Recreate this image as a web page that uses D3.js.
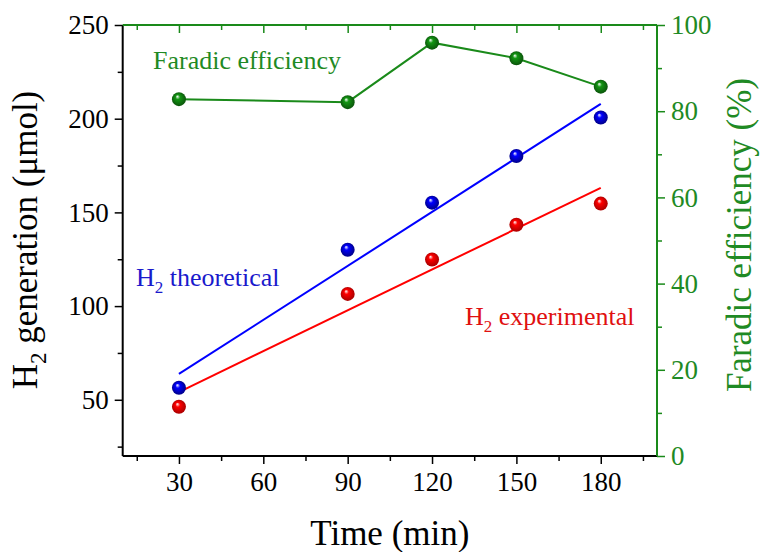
<!DOCTYPE html>
<html>
<head>
<meta charset="utf-8">
<script src="https://cdn.jsdelivr.net/npm/d3@7"></script>
<style>
  html, body { margin: 0; padding: 0; background: #fff; }
  svg { display: block; }
  svg text { font-family: "Liberation Serif", "Times New Roman", serif !important; }
</style>
</head>
<body>
<svg id="chart" width="761" height="552"></svg>
<script>
// Sampling times (min)
const times = [30, 90, 120, 150, 180];
// H2 amounts (µmol)
const h2Theoretical = [56.4, 130.1, 155.2, 180.1, 200.6];
const h2Experimental = [46.3, 106.5, 124.9, 143.4, 154.7];
// Faradaic efficiency (%)
const faradicEff = [82.8, 82.1, 95.9, 92.3, 85.7];

const xTicks = [30, 60, 90, 120, 150, 180];
const xMinorTicks = [15, 45, 75, 105, 135, 165, 195];
const yLeftTicks = [50, 100, 150, 200, 250];
const yLeftMinor = [25, 75, 125, 175, 225];
const yRightTicks = [0, 20, 40, 60, 80, 100];
const yRightMinor = [10, 30, 50, 70, 90];

const BLUE = "#0000ff", RED = "#ff0000", GREEN = "#1a8a1a";
const TEXT_BLUE = "#1a1acc", TEXT_RED = "#e01010", TEXT_GREEN = "#1f8a24";
const SERIF = "'Liberation Serif', 'Times New Roman', serif";

const svg = d3.select("#chart");
const plotL = 122.7, plotR = 657, plotT = 25, plotB = 456;

const x = d3.scaleLinear().domain([10, 200]).range([plotL, plotR]);
const yL = d3.scaleLinear().domain([20, 250]).range([plotB, plotT]);
const yR = d3.scaleLinear().domain([0, 100]).range([plotB, plotT]);

// Sphere-like marker gradients
const defs = svg.append("defs");
function sphere(id, base, dark) {
  const g = defs.append("radialGradient").attr("id", id)
    .attr("cx", "50%").attr("cy", "50%").attr("r", "55%")
    .attr("fx", "38%").attr("fy", "30%");
  g.append("stop").attr("offset", "0%").attr("stop-color", "#ffffff");
  g.append("stop").attr("offset", "30%").attr("stop-color", base);
  g.append("stop").attr("offset", "100%").attr("stop-color", dark);
}
sphere("ballBlue", BLUE, "#00007a");
sphere("ballRed", RED, "#a00000");
sphere("ballGreen", "#139613", "#0a4d0a");

// Least-squares fit line through a series
function fit(xs, ys) {
  const mx = d3.mean(xs), my = d3.mean(ys);
  let sxy = 0, sxx = 0;
  for (let i = 0; i < xs.length; i++) { sxy += (xs[i] - mx) * (ys[i] - my); sxx += (xs[i] - mx) ** 2; }
  const b = sxy / sxx, a = my - b * mx;
  return v => a + b * v;
}

const tickMajor = 8, tickMinor = 5;

function styleAxis(g, stroke, textFill) {
  g.attr("font-family", null);
  g.selectAll(".domain").remove();
  g.selectAll("line").attr("stroke", stroke).attr("stroke-width", 1.5);
  g.selectAll("text").attr("font-size", 27).attr("fill", textFill).style("font-family", SERIF);
}

// Bottom axis (black, outward ticks)
const bottomAxis = svg.append("g").attr("transform", `translate(0,${plotB})`);
bottomAxis.call(d3.axisBottom(x).tickValues(xTicks).tickSize(tickMajor).tickPadding(8).tickSizeOuter(0));
bottomAxis.append("g").call(d3.axisBottom(x).tickValues(xMinorTicks).tickSize(tickMinor).tickFormat("").tickSizeOuter(0));
styleAxis(bottomAxis, "#000", "#000");

// Top axis (green, inward ticks)
const topAxis = svg.append("g").attr("transform", `translate(0,${plotT})`);
topAxis.call(d3.axisBottom(x).tickValues(xTicks).tickSize(tickMajor).tickFormat("").tickSizeOuter(0));
topAxis.append("g").call(d3.axisBottom(x).tickValues(xMinorTicks).tickSize(tickMinor).tickFormat("").tickSizeOuter(0));
styleAxis(topAxis, GREEN, GREEN);

// Left axis (black, outward ticks)
const leftAxis = svg.append("g").attr("transform", `translate(${plotL},0)`);
leftAxis.call(d3.axisLeft(yL).tickValues(yLeftTicks).tickSize(tickMajor).tickPadding(6).tickSizeOuter(0));
leftAxis.append("g").call(d3.axisLeft(yL).tickValues(yLeftMinor).tickSize(tickMinor).tickFormat("").tickSizeOuter(0));
styleAxis(leftAxis, "#000", "#000");

// Right axis (green, outward ticks)
const rightAxis = svg.append("g").attr("transform", `translate(${plotR},0)`);
rightAxis.call(d3.axisRight(yR).tickValues(yRightTicks).tickSize(tickMajor).tickPadding(6).tickSizeOuter(0));
rightAxis.append("g").call(d3.axisRight(yR).tickValues(yRightMinor).tickSize(tickMinor).tickFormat("").tickSizeOuter(0));
styleAxis(rightAxis, GREEN, TEXT_GREEN);

// Frame lines
svg.append("line").attr("x1", plotL).attr("x2", plotL).attr("y1", plotT).attr("y2", plotB).attr("stroke", "#000").attr("stroke-width", 2);
svg.append("line").attr("x1", plotL).attr("x2", plotR).attr("y1", plotB).attr("y2", plotB).attr("stroke", "#000").attr("stroke-width", 2);
svg.append("line").attr("x1", plotL).attr("x2", plotR).attr("y1", plotT).attr("y2", plotT).attr("stroke", GREEN).attr("stroke-width", 2);
svg.append("line").attr("x1", plotR).attr("x2", plotR).attr("y1", plotT).attr("y2", plotB).attr("stroke", GREEN).attr("stroke-width", 2);

// Fitted lines for H2 series
const fitT = fit(times, h2Theoretical);
const fitE = fit(times, h2Experimental);
const t0 = d3.min(times), t1 = d3.max(times);
svg.append("line").attr("x1", x(t0)).attr("y1", yL(fitT(t0))).attr("x2", x(t1)).attr("y2", yL(fitT(t1)))
  .attr("stroke", BLUE).attr("stroke-width", 2);
svg.append("line").attr("x1", x(t0)).attr("y1", yL(fitE(t0))).attr("x2", x(t1)).attr("y2", yL(fitE(t1)))
  .attr("stroke", RED).attr("stroke-width", 2);

// Faradaic efficiency line
const feLine = d3.line().x((d, i) => x(times[i])).y(d => yR(d));
svg.append("path").datum(faradicEff).attr("d", feLine).attr("fill", "none")
  .attr("stroke", GREEN).attr("stroke-width", 2);

// Markers
function balls(values, scale, fill) {
  svg.append("g").selectAll("circle").data(values).join("circle")
    .attr("cx", (d, i) => x(times[i])).attr("cy", d => scale(d)).attr("r", 7)
    .attr("fill", `url(#${fill})`);
}
balls(h2Experimental, yL, "ballRed");
balls(h2Theoretical, yL, "ballBlue");
balls(faradicEff, yR, "ballGreen");

// Series labels
svg.append("text").attr("x", 153).attr("y", 69).attr("font-size", 26).attr("fill", TEXT_GREEN)
  .style("font-family", SERIF).text("Faradic efficiency");

const tTheo = svg.append("text").attr("x", 136).attr("y", 286).attr("font-size", 26)
  .attr("fill", TEXT_BLUE).style("font-family", SERIF);
tTheo.append("tspan").text("H");
tTheo.append("tspan").attr("font-size", 17).attr("dy", 7).text("2");
tTheo.append("tspan").attr("dy", -7).text(" theoretical");

const tExp = svg.append("text").attr("x", 465).attr("y", 325).attr("font-size", 26)
  .attr("fill", TEXT_RED).style("font-family", SERIF);
tExp.append("tspan").text("H");
tExp.append("tspan").attr("font-size", 17).attr("dy", 7).text("2");
tExp.append("tspan").attr("dy", -7).text(" experimental");

// Axis titles
svg.append("text").attr("x", (plotL + plotR) / 2).attr("y", 545).attr("text-anchor", "middle")
  .attr("font-size", 35).attr("fill", "#000").style("font-family", SERIF).text("Time (min)");

const yTitle = svg.append("text").attr("transform", "translate(37,240) rotate(-90)")
  .attr("text-anchor", "middle").attr("font-size", 35).attr("fill", "#000").style("font-family", SERIF);
yTitle.append("tspan").text("H");
yTitle.append("tspan").attr("font-size", 23).attr("dy", 9).text("2");
yTitle.append("tspan").attr("dy", -9).text(" generation (μmol)");

svg.append("text").attr("transform", "translate(751,235) rotate(-90)")
  .attr("text-anchor", "middle").attr("font-size", 35).attr("fill", TEXT_GREEN)
  .style("font-family", SERIF).text("Faradic efficiency (%)");
</script>
</body>
</html>
